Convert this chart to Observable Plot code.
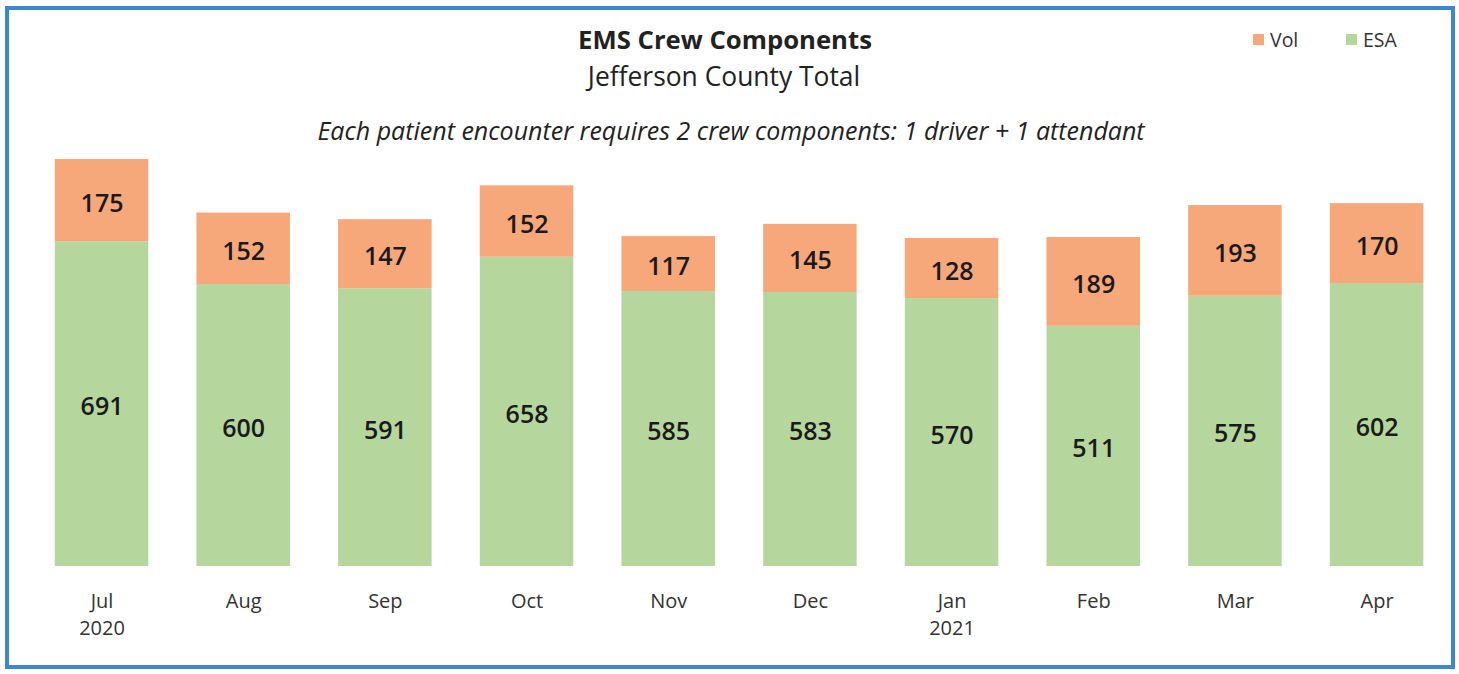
<!DOCTYPE html>
<html>
<head>
<meta charset="utf-8">
<script src="https://cdn.jsdelivr.net/npm/d3@7"></script>
<script src="https://cdn.jsdelivr.net/npm/@observablehq/plot@0.6"></script>
<style>
  html, body { margin: 0; padding: 0; background: #fff; }
  #wrap { position: relative; width: 1459px; height: 674px; overflow: hidden; font-family: "Open Sans", sans-serif; }
  #frame { position: absolute; left: 5px; top: 6px; width: 1442px; height: 655px; border: 4px solid #3d86d3; pointer-events: none; }
  .t { position: absolute; white-space: nowrap; transform: translateX(-50%); color: #222; line-height: 1; }
  #title { left: 725px; top: 27px; font-size: 25.7px; font-weight: 700; }
  #sub { left: 724px; top: 63px; font-size: 26.4px; }
  #note { left: 731px; top: 118px; font-size: 25px; font-style: italic; }
  .leg { position: absolute; top: 30px; font-size: 19.5px; color: #333; line-height: 1; display: flex; align-items: center; }
  .sw { width: 11px; height: 11px; margin-right: 6px; display: inline-block; }
  #plot { position: absolute; left: 0; top: 0; }
</style>
</head>
<body>
<div id="wrap">
  <div id="plot"></div>
  <div id="title" class="t">EMS Crew Components</div>
  <div id="sub" class="t">Jefferson County Total</div>
  <div id="note" class="t">Each patient encounter requires 2 crew components: 1 driver + 1 attendant</div>
  <div class="leg" style="left:1253px"><span class="sw" style="background:#f7a87b"></span>Vol</div>
  <div class="leg" style="left:1346px"><span class="sw" style="background:#b5d79e"></span>ESA</div>
  <div id="frame"></div>
</div>
<script>
const months = ["Jul", "Aug", "Sep", "Oct", "Nov", "Dec", "Jan", "Feb", "Mar", "Apr"];
const tickLabels = ["Jul\n2020", "Aug", "Sep", "Oct", "Nov", "Dec", "Jan\n2021", "Feb", "Mar", "Apr"];
const esa = [691, 600, 591, 658, 585, 583, 570, 511, 575, 602];
const vol = [175, 152, 147, 152, 117, 145, 128, 189, 193, 170];
const seriesNames = ["ESA", "Vol"];
const seriesColors = ["#b5d79e", "#f7a87b"];

const data = [];
months.forEach((m, i) => {
  data.push({month: m, series: "ESA", value: esa[i]});
  data.push({month: m, series: "Vol", value: vol[i]});
});
const labelOf = new Map(months.map((m, i) => [m, tickLabels[i]]));

const chart = Plot.plot({
  width: 1459,
  height: 674,
  marginTop: 143,
  marginBottom: 108,
  marginLeft: 40.6,
  marginRight: 21.5,
  style: {fontFamily: "Open Sans, sans-serif", background: "transparent"},
  x: {domain: months, paddingInner: 0.34, paddingOuter: 0.1, round: false, label: null},
  y: {domain: [0, 900], axis: null},
  color: {domain: seriesNames, range: seriesColors},
  marks: [
    Plot.barY(data, Plot.stackY({order: seriesNames, x: "month", y: "value", fill: "series"})),
    Plot.text(data, Plot.stackY({order: seriesNames, x: "month", y: "value", z: "series", text: d => String(d.value), fill: "#1a1a1a", fontSize: 25, fontWeight: 600, dy: 3})),
    Plot.axisX({tickSize: 0, tickPadding: 22, fontSize: 20, fill: "#333", lineHeight: 1.35, tickFormat: m => labelOf.get(m), label: null})
  ]
});
document.getElementById("plot").appendChild(chart);
</script>
</body>
</html>
